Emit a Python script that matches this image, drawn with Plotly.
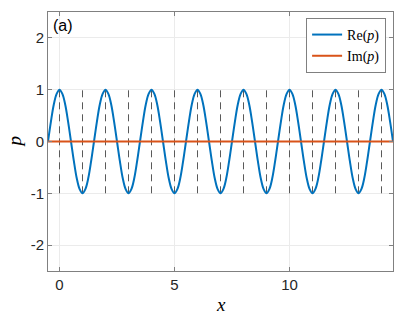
import plotly.graph_objects as go

# sample positions (eighth steps) and values
x_pts = [i * 0.125 - 0.5 for i in range(121)]
re_cycle = [0.0, 0.38, 0.71, 0.92, 1.0, 0.92, 0.71, 0.38,
            0.0, -0.38, -0.71, -0.92, -1.0, -0.92, -0.71, -0.38]
re_vals = [re_cycle[i % 16] for i in range(121)]
im_vals = [0.0] * 121

dash_x = list(range(0, 15))
dash_lo, dash_hi = -1, 1

x_ticks = [0, 5, 10]
x_labels = ["0", "5", "10"]
y_ticks = [-2, -1, 0, 1, 2]
y_labels = ["-2", "-1", "0", "1", "2"]

BLUE = "#0072BD"
ORANGE = "#D95319"

dx, dy = [], []
for v in dash_x:
    dx += [v, v, None]
    dy += [dash_lo, dash_hi, None]

fig = go.Figure()
fig.add_trace(go.Scatter(x=dx, y=dy, mode="lines", showlegend=False,
                         line=dict(color="#5a5a5a", width=1, dash="7px,5px"),
                         hoverinfo="skip"))
fig.add_trace(go.Scatter(x=x_pts, y=re_vals, mode="lines", name="Re(<i>p</i>)",
                         line=dict(color=BLUE, width=2, shape="spline", smoothing=1.0)))
fig.add_trace(go.Scatter(x=x_pts, y=im_vals, mode="lines", name="Im(<i>p</i>)",
                         line=dict(color=ORANGE, width=2)))

axis_common = dict(showline=True, linecolor="#808080", linewidth=1, mirror="ticks",
                   ticks="inside", ticklen=4, tickcolor="#808080", automargin=False,
                   showgrid=True, gridcolor="#ebebeb", gridwidth=1, zeroline=False,
                   tickfont=dict(family="Liberation Sans, Arial", size=15, color="#262626"))

fig.update_layout(
    width=407, height=321,
    margin=dict(l=48, r=14, t=12, b=50),
    plot_bgcolor="white", paper_bgcolor="white",
    xaxis=dict(range=[-0.5, 14.5], tickvals=x_ticks, ticktext=x_labels, **axis_common),
    yaxis=dict(range=[-2.5, 2.5], tickvals=y_ticks, ticktext=y_labels, **axis_common),
    legend=dict(x=0.98, y=0.977, xanchor="right", yanchor="top",
                bgcolor="white", bordercolor="#808080", borderwidth=1,
                font=dict(family="Liberation Serif, DejaVu Serif", size=14, color="#000000"),
                itemwidth=30, tracegroupgap=0),
    annotations=[
        dict(text="(a)", x=0.01, y=0.99, xref="paper", yref="paper", xanchor="left",
             yanchor="top", showarrow=False,
             font=dict(family="Liberation Sans, Arial", size=16, color="#000000")),
        dict(text="<i>x</i>", x=0.5, y=-0.131, xref="paper", yref="paper", xanchor="center",
             yanchor="middle", showarrow=False,
             font=dict(family="Liberation Serif, DejaVu Serif", size=19, color="#000000")),
        dict(text="<i>p</i>", x=-0.096, y=0.5, xref="paper", yref="paper", xanchor="center",
             yanchor="middle", showarrow=False, textangle=-90,
             font=dict(family="Liberation Serif, DejaVu Serif", size=19, color="#000000")),
    ],
)

fig.write_html("out.html", config={"displayModeBar": False},
               post_script="document.body.style.margin='0';")
